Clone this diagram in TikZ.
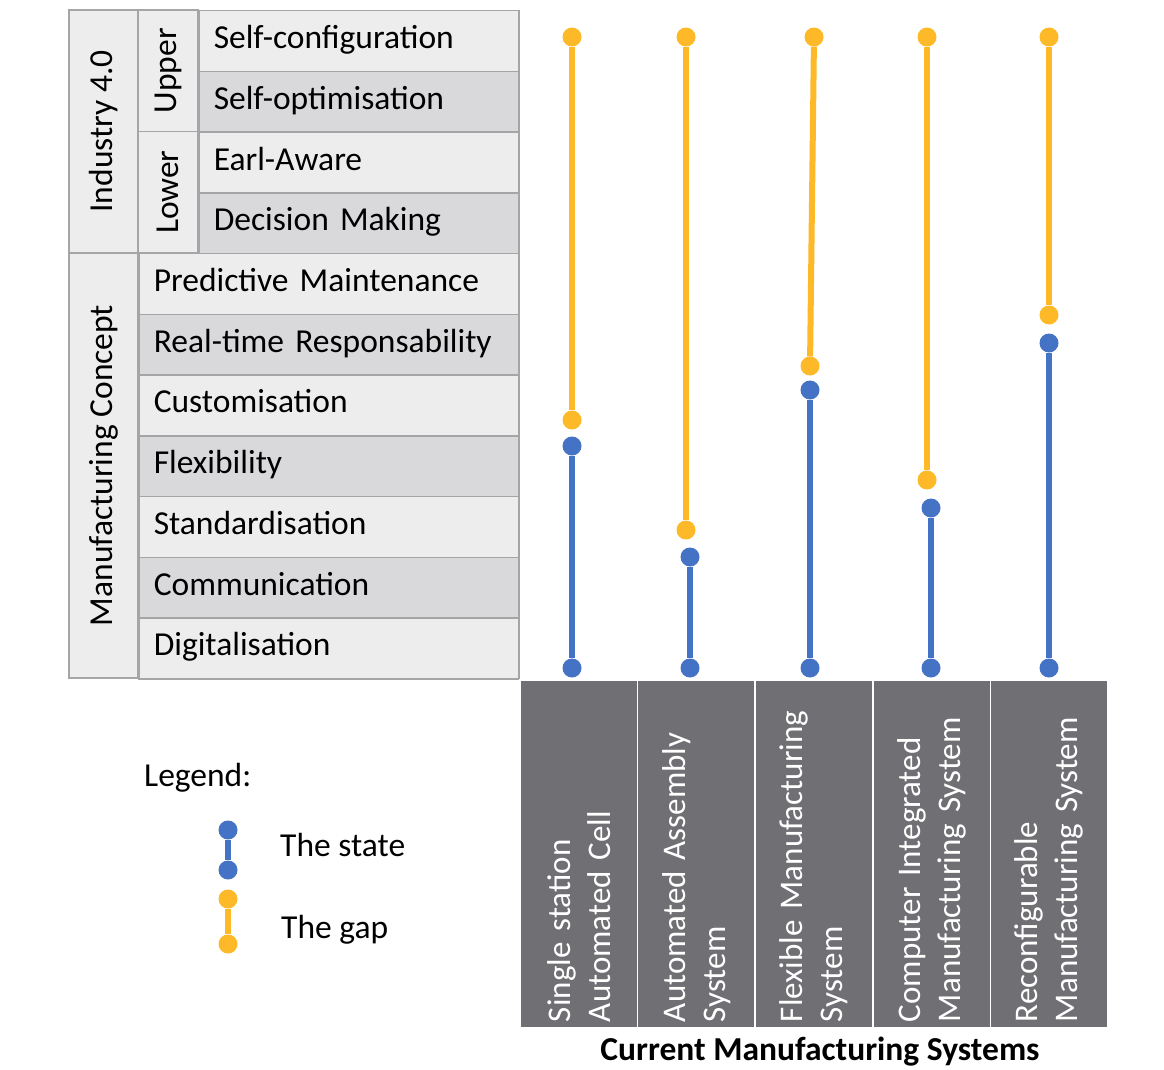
\documentclass[tikz,border=0pt]{standalone}
\usepackage{fontspec}
\setmainfont{Carlito}
\usetikzlibrary{positioning}
\definecolor{stateblue}{RGB}{68,114,196}
\definecolor{gapgold}{RGB}{253,185,39}
\definecolor{gridgray}{RGB}{165,165,167}
\definecolor{rowlight}{RGB}{237,237,238}
\definecolor{rowdark}{RGB}{217,217,219}
\definecolor{boxgray}{RGB}{112,111,115}
\tikzstyle{cell}=[draw=gridgray, line width=1.5pt, inner sep=0pt, font=\fontsize{33.5}{38}\selectfont]
\tikzstyle{item}=[cell, anchor=north west, minimum height=60.73pt, inner xsep=15pt, text height=24pt, text depth=9pt, align=left]
\tikzstyle{head}=[cell, fill=rowlight, rotate=90]
\tikzstyle{sysbox}=[rotate=90, fill=boxgray, draw=white, line width=1.5pt, minimum width=348pt, minimum height=117.6pt, text width=336pt, inner xsep=6pt, align=left, text=white, font=\fontsize{33}{40}\selectfont]
\tikzstyle{sdot}=[circle, fill=stateblue, minimum size=19pt, inner sep=0pt]
\tikzstyle{gdot}=[circle, fill=gapgold, minimum size=19pt, inner sep=0pt]
\tikzstyle{sline}=[draw=stateblue, line width=6pt]
\tikzstyle{gline}=[draw=gapgold, line width=6pt]
\tikzstyle{txt}=[anchor=west, inner sep=0pt, font=\fontsize{33.5}{38}\selectfont]

\begin{document}
\begin{tikzpicture}[x=1pt, y=-1pt]
\useasboundingbox (0,0) rectangle (1164,1070);
% table of concepts
\node[head, minimum width=242.9pt, minimum height=69pt] (ind) at (103.5,131.45) {Industry 4.0};
\node[head, minimum width=121.45pt, minimum height=60pt] (upper) at (168,70.73) {Upper};
\node[head, minimum width=121.45pt, minimum height=60pt] (lower) at (168,192.18) {Lower};
\node[head, minimum width=425.1pt, minimum height=69pt] (manuf) at (103.5,465.45) {Manufacturing Concept};
\node[item, fill=rowlight, text width=290pt] (selfconf) at (198,10) {Self-configuration};
\node[item, fill=rowdark, text width=290pt] (selfopt) at (198,70.73) {Self-optimisation};
\node[item, fill=rowlight, text width=290pt] (aware) at (198,131.45) {Earl-Aware};
\node[item, fill=rowdark, text width=290pt] (decision) at (198,192.18) {Decision Making};
\node[item, fill=rowlight, text width=350pt] (predict) at (138,252.91) {Predictive Maintenance};
\node[item, fill=rowdark, text width=350pt] (realtime) at (138,313.64) {Real-time Responsability};
\node[item, fill=rowlight, text width=350pt] (custom) at (138,374.36) {Customisation};
\node[item, fill=rowdark, text width=350pt] (flex) at (138,435.09) {Flexibility};
\node[item, fill=rowlight, text width=350pt] (standard) at (138,495.82) {Standardisation};
\node[item, fill=rowdark, text width=350pt] (comm) at (138,556.55) {Communication};
\node[item, fill=rowlight, text width=350pt] (digital) at (138,617.27) {Digitalisation};
% manufacturing systems
\node[sysbox] (sys1) at (578.8,854) {Single station\\Automated Cell};
\node[sysbox] (sys2) at (696.4,854) {Automated Assembly\\System};
\node[sysbox] (sys3) at (814,854) {Flexible Manufacturing\\System};
\node[sysbox] (sys4) at (931.6,854) {Computer Integrated\\Manufacturing System};
\node[sysbox] (sys5) at (1049.2,854) {Reconfigurable\\Manufacturing System};
\node[font=\fontsize{33.5}{38}\selectfont\bfseries, inner sep=0pt] (title) at (820,1052) {Current Manufacturing Systems};
% state and gap
\node[gdot] (g1a) at (572,37) {};
\node[gdot] (g1b) at (572,420) {};
\node[sdot] (s1a) at (572,446) {};
\node[sdot] (s1b) at (572,668) {};
\node[gdot] (g2a) at (686,37) {};
\node[gdot] (g2b) at (686,530) {};
\node[sdot] (s2a) at (690,557) {};
\node[sdot] (s2b) at (690,668) {};
\node[gdot] (g3a) at (814,37) {};
\node[gdot] (g3b) at (810,366) {};
\node[sdot] (s3a) at (810,390) {};
\node[sdot] (s3b) at (810,668) {};
\node[gdot] (g4a) at (927,37) {};
\node[gdot] (g4b) at (927,480) {};
\node[sdot] (s4a) at (931,508) {};
\node[sdot] (s4b) at (931,668) {};
\node[gdot] (g5a) at (1049,37) {};
\node[gdot] (g5b) at (1049,315) {};
\node[sdot] (s5a) at (1049,343) {};
\node[sdot] (s5b) at (1049,668) {};
\draw[gline] (g1a) -- (g1b);
\draw[sline] (s1a) -- (s1b);
\draw[gline] (g2a) -- (g2b);
\draw[sline] (s2a) -- (s2b);
\draw[gline] (g3a) -- (g3b);
\draw[sline] (s3a) -- (s3b);
\draw[gline] (g4a) -- (g4b);
\draw[sline] (s4a) -- (s4b);
\draw[gline] (g5a) -- (g5b);
\draw[sline] (s5a) -- (s5b);
% legend
\node[txt] (legend) at (144,778) {Legend:};
\node[sdot] (ls1) at (228,830) {};
\node[sdot] (ls2) at (228,870) {};
\node[gdot] (lg1) at (228,899) {};
\node[gdot] (lg2) at (228,944) {};
\draw[sline] (ls1) -- (ls2);
\draw[gline] (lg1) -- (lg2);
\node[txt] (lstate) at (280,845) {The state};
\node[txt] (lgap) at (281,930) {The gap};
\end{tikzpicture}
\end{document}
